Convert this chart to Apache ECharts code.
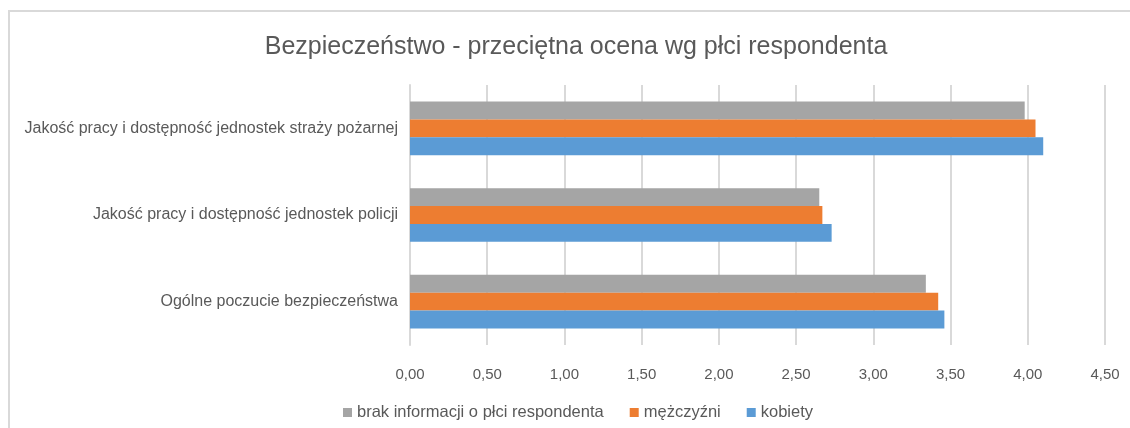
<!DOCTYPE html>
<html>
<head>
<meta charset="utf-8">
<script src="https://cdn.jsdelivr.net/npm/echarts@6/dist/echarts.min.js"></script>
<style>
  html, body { margin: 0; padding: 0; background: #fff; }
  #frame { position: absolute; left: 8px; top: 10px; width: 1140px; height: 430px; border: 2px solid #d9d9d9; box-sizing: border-box; }
  #chart { position: absolute; left: 0; top: 0; width: 1130px; height: 428px; }
</style>
</head>
<body>
<div id="frame"></div>
<div id="chart"></div>
<script>
// Categories listed bottom-to-top (category axis grows upward)
const categories = [
  'Ogólne poczucie bezpieczeństwa',
  'Jakość pracy i dostępność jednostek policji',
  'Jakość pracy i dostępność jednostek straży pożarnej'
];
const kobiety = [3.46, 2.73, 4.10];
const mezczyzni = [3.42, 2.67, 4.05];
const brakInformacji = [3.34, 2.65, 3.98];
const legendOrder = ['brak informacji o płci respondenta', 'mężczyźni', 'kobiety'];

const FONT = '"Liberation Sans", Arial, sans-serif';
const TEXT = '#595959';

const chart = echarts.init(document.getElementById('chart'), null, { renderer: 'canvas' });

function barSeries(name, data, color) {
  return {
    name: name,
    type: 'bar',
    data: data,
    barGap: '0%',
    barCategoryGap: '38%',
    itemStyle: { color: color },
    emphasis: { disabled: true }
  };
}

chart.setOption({
  animation: false,
  title: {
    text: 'Bezpieczeństwo - przeciętna ocena wg płci respondenta',
    left: 571,
    textAlign: 'center',
    top: 30,
    textStyle: { fontFamily: FONT, fontSize: 25, fontWeight: 'normal', color: TEXT }
  },
  legend: {
    data: legendOrder,
    left: 338,
    top: 399,
    itemWidth: 9,
    itemHeight: 9,
    itemGap: 26,
    icon: 'rect',
    textStyle: { fontFamily: FONT, fontSize: 16.5, color: TEXT, padding: [0, 0, 0, 0] }
  },
  grid: { left: 410, right: 25, top: 85, bottom: 83, containLabel: false },
  xAxis: {
    type: 'value',
    min: 0,
    max: 4.5,
    interval: 0.5,
    axisLine: { show: false },
    axisTick: { show: false },
    splitLine: { show: true, lineStyle: { color: '#d9d9d9', width: 2 } },
    axisLabel: {
      margin: 22,
      fontFamily: FONT,
      fontSize: 15,
      color: TEXT,
      formatter: v => v.toFixed(2).replace('.', ',')
    }
  },
  yAxis: {
    type: 'category',
    data: categories,
    axisLine: { show: true, lineStyle: { color: '#d9d9d9', width: 2 } },
    axisTick: { show: false },
    axisLabel: { margin: 12, fontFamily: FONT, fontSize: 16, color: TEXT }
  },
  // first series sits at the top of each category band
  series: [
    barSeries('brak informacji o płci respondenta', brakInformacji, '#A5A5A5'),
    barSeries('mężczyźni', mezczyzni, '#ED7D31'),
    barSeries('kobiety', kobiety, '#5B9BD5')
  ]
});
</script>
</body>
</html>
